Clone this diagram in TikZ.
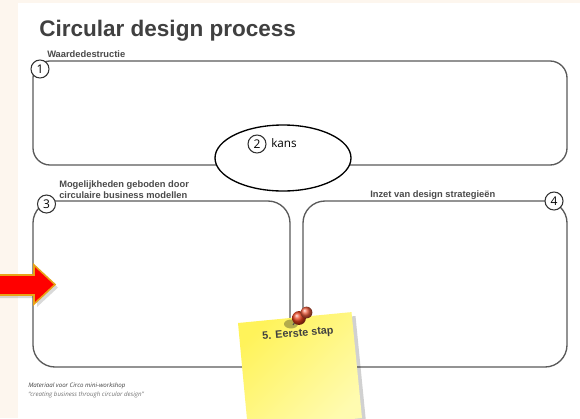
\documentclass[tikz,border=0pt]{standalone}
\usepackage{fontspec}
\setmainfont{Liberation Sans}
\newfontfamily\osans{Open Sans}
\usetikzlibrary{shapes.geometric}
\definecolor{cream}{HTML}{FDF6EE}
\definecolor{boxgray}{HTML}{5A5A5A}
\definecolor{titlegray}{HTML}{404040}
\definecolor{labelgray}{HTML}{4A4A4A}
\definecolor{arrowred}{HTML}{FF0000}
\definecolor{arrowgold}{HTML}{E8A317}
\definecolor{noteA}{HTML}{FFF35A}
\definecolor{noteB}{HTML}{FFFBB0}
\definecolor{pinred}{HTML}{E8401C}
\begin{document}
\begin{tikzpicture}[x=0.75pt,y=-0.75pt,
 boxline/.style={draw=boxgray, line width=1pt},
 num/.style={circle, draw=black!80, line width=0.8pt, fill=white, minimum size=13.5pt, inner sep=0pt, font=\osans\fontsize{9}{9}\selectfont},
 lbl/.style={font=\bfseries\fontsize{7}{8.25}\selectfont, text=labelgray, inner sep=0pt, anchor=base west}]
\useasboundingbox (0,0) rectangle (580,418);
\fill[cream] (0,0) rectangle (580,418);
\fill[white] (18,3) rectangle (580,418);

\node[anchor=base west, inner sep=0pt, font=\bfseries\fontsize{16.9}{20}\selectfont, text=titlegray] (title) at (39,36) {Circular design process};

% boxes
\draw[boxline, rounded corners=12.75pt] (33,61) rectangle (567,165);
\draw[boxline, rounded corners=16.5pt] (33,201) rectangle (290,367);
\draw[boxline, rounded corners=16.5pt] (303,201) rectangle (567,367);

% ellipse
\node[ellipse, draw=black, line width=1pt, fill=white, minimum width=102pt, minimum height=49.5pt, inner sep=0pt] (opp) at (283,158) {};
\node[num] (n2) at (257,144) {2};
\node[anchor=west, font=\osans\fontsize{8.8}{10}\selectfont, inner sep=0pt] (kans) at (271,143) {kans};

% numbers
\node[num] (n1) at (40,69) {1};
\node[num] (n3) at (46.5,204) {3};
\node[num] (n4) at (554,201) {4};

% labels
\node[lbl] (l1) at (47,57) {Waardedestructie};
\node[lbl] (l3a) at (59,187.5) {Mogelijkheden geboden door};
\node[lbl] (l3b) at (59,198) {circulaire business modellen};
\node[lbl] (l4) at (370,197) {Inzet van design strategieën};

% red arrow
\fill[black, opacity=0.15] (0,278) -- (37,278) -- (37,268) -- (58,287.5) -- (37,307) -- (37,298) -- (0,298) -- cycle;
\filldraw[fill=arrowred, draw=arrowgold, line width=1.2pt, line join=miter] (-2,275) -- (34,275) -- (34,265) -- (55,284.5) -- (34,304) -- (34,295) -- (-2,295) -- cycle;

% sticky note
\fill[black, opacity=0.18] (242,327) -- (355.5,316) -- (366,422) -- (252,434) -- cycle;
\shade[top color=noteA, bottom color=noteB, shading angle=45] (238,323) -- (351.5,312.1) -- (362,418) -- (248,430) -- cycle;
\node[rotate=5, font=\bfseries\fontsize{8.1}{10}\selectfont, text=black!75, inner sep=0pt] (step) at (298,334) {5. Eerste stap};

% pin
\fill[black!50!olive, opacity=0.45] (291,324) ellipse [x radius=7, y radius=4.5];
\draw[black!70, line width=0.8pt] (297,319) -- (293,325);
\shade[ball color=pinred] (299,318) circle [radius=5.2pt];
\shade[ball color=pinred!85!white] (306.5,312.5) circle [radius=4.4pt];

% footer
\node[anchor=base west, inner sep=0pt, font=\osans\itshape\fontsize{4.6}{5}\selectfont, text=black!75] (f1) at (28,387) {Materiaal voor Circo mini-workshop};
\node[anchor=base west, inner sep=0pt, font=\osans\itshape\fontsize{4.6}{5}\selectfont, text=black!55] (f2) at (28,396) {“creating business through circular design”};
\end{tikzpicture}
\end{document}
